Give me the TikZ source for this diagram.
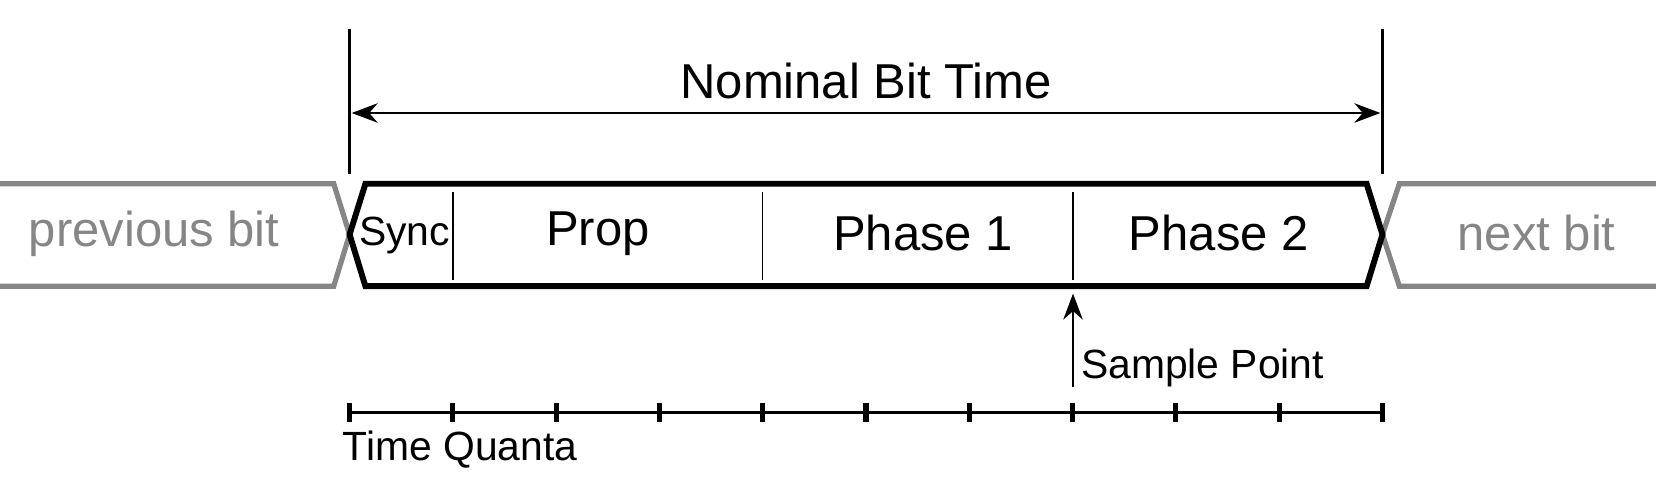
\documentclass[tikz,border=0pt]{standalone}
\usepackage{fontspec}
\setmainfont{Liberation Sans}
\usetikzlibrary{arrows.meta}

\begin{document}
\begin{tikzpicture}[x=0.1mm, y=-0.1mm,
    bitframe/.style={line width=1.6pt, line join=miter},
    otherbit/.style={line width=1.4pt, draw=gray!95, line join=miter},
    thin line/.style={line width=0.4pt},
    field/.style={font=\fontsize{13.2}{15}\selectfont, inner sep=0pt},
    small field/.style={field, font=\fontsize{11}{13}\selectfont},
    grayfield/.style={field, text=gray!95},
    tick/.style={line width=1.4pt}]
  \useasboundingbox (0,0) rectangle (1568,473);
  % nominal bit time
  \coordinate (ls) at (331,27);  \coordinate (le) at (331,165);
  \coordinate (rs) at (1309,27); \coordinate (re) at (1309,165);
  \draw[thin line, line width=0.6pt] (ls) -- (le);
  \draw[thin line, line width=0.6pt] (rs) -- (re);
  \coordinate (al) at (333,107); \coordinate (ar) at (1307,107);
  \draw[thin line, line width=0.6pt, {Stealth[length=7pt]}-{Stealth[length=7pt]}] (al) -- (ar);
  \node[field] (nbt) at (820,77) {Nominal Bit Time};
  % neighbouring bits
  \draw[otherbit] (-10,174) -- (316,174) -- (331,222) -- (316,271) -- (-10,271);
  \draw[otherbit] (1580,174) -- (1325,174) -- (1309,222) -- (1325,271) -- (1580,271);
  \node[grayfield] (prev) at (146,221) {previous bit};
  \node[grayfield] (next) at (1455,221) {next bit};
  % the bit
  \draw[bitframe] (331,222) -- (346,174) -- (1294,174) -- (1309,222)
    -- (1294,271) -- (346,271) -- cycle;
  \foreach \x in {429,722,1016}
    \draw[thin line] (\x,182) -- (\x,265);
  \node[small field] (sync) at (383,223) {Sync};
  \node[field] (prop) at (566,221) {Prop};
  \node[field] (ph1) at (874,221) {Phase 1};
  \node[field] (ph2) at (1154,221) {Phase 2};
  % sample point
  \coordinate (sp0) at (1016,366); \coordinate (sp1) at (1016,278);
  \draw[thin line, line width=0.6pt, -{Stealth[length=7pt]}] (sp0) -- (sp1);
  \node[small field, anchor=west] (splabel) at (1023,348) {Sample Point};
  % time quanta
  \coordinate (t0) at (331,391); \coordinate (t1) at (1309,391);
  \draw[thin line, line width=0.8pt] (t0) -- (t1);
  \foreach \i in {0,...,10}
    \draw[tick] ({331+97.8*\i},382) -- ({331+97.8*\i},400);
  \node[small field, anchor=west] (tq) at (324,426) {Time Quanta};
\end{tikzpicture}
\end{document}
